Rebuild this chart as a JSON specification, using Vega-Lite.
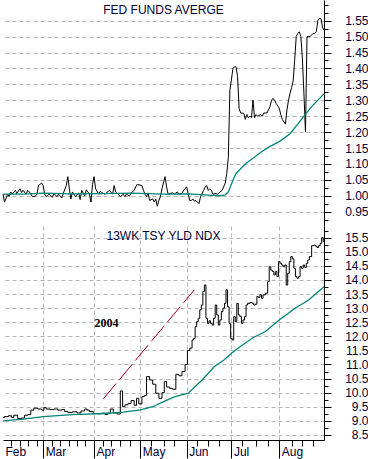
{
  "$schema": "https://vega.github.io/schema/vega-lite/v6.json",
  "padding": 0,
  "spacing": 0,
  "bounds": "flush",
  "config": {
    "view": {"stroke": null},
    "font": "Liberation Sans",
    "axis": {
      "labelFont": "Liberation Sans",
      "labelFontSize": 12,
      "labelColor": "#000033",
      "domainColor": "#000000",
      "tickColor": "#000000",
      "gridColor": "#b4b4b4",
      "gridDash": [4, 3],
      "gridWidth": 1,
      "title": null
    }
  },
  "datasets": {
    "fed": [
      {"date": "2004-02-04", "rate": 1.005}, {"date": "2004-02-05", "rate": 0.98}, {"date": "2004-02-07", "rate": 1.005},
      {"date": "2004-02-08", "rate": 0.998}, {"date": "2004-02-09", "rate": 1.012}, {"date": "2004-02-10", "rate": 1.005},
      {"date": "2004-02-12", "rate": 1.017}, {"date": "2004-02-13", "rate": 1.007}, {"date": "2004-02-14", "rate": 1.015},
      {"date": "2004-02-15", "rate": 1.022}, {"date": "2004-02-16", "rate": 1.01}, {"date": "2004-02-17", "rate": 1.017},
      {"date": "2004-02-19", "rate": 1.005}, {"date": "2004-02-20", "rate": 1.017}, {"date": "2004-02-22", "rate": 1.007},
      {"date": "2004-02-23", "rate": 0.997}, {"date": "2004-02-25", "rate": 0.999}, {"date": "2004-02-26", "rate": 1.005},
      {"date": "2004-02-27", "rate": 1.032}, {"date": "2004-02-29", "rate": 1.04}, {"date": "2004-03-01", "rate": 1.032},
      {"date": "2004-03-02", "rate": 1.005}, {"date": "2004-03-03", "rate": 0.997}, {"date": "2004-03-05", "rate": 1.005},
      {"date": "2004-03-07", "rate": 0.995}, {"date": "2004-03-08", "rate": 1.007}, {"date": "2004-03-10", "rate": 0.997},
      {"date": "2004-03-11", "rate": 1.005}, {"date": "2004-03-13", "rate": 0.993}, {"date": "2004-03-14", "rate": 1.007},
      {"date": "2004-03-16", "rate": 1.032}, {"date": "2004-03-17", "rate": 1.06}, {"date": "2004-03-18", "rate": 1.022},
      {"date": "2004-03-19", "rate": 0.99}, {"date": "2004-03-20", "rate": 1.012}, {"date": "2004-03-22", "rate": 0.997},
      {"date": "2004-03-24", "rate": 1.009}, {"date": "2004-03-25", "rate": 0.988}, {"date": "2004-03-26", "rate": 1.017},
      {"date": "2004-03-28", "rate": 1.0}, {"date": "2004-03-29", "rate": 1.019}, {"date": "2004-03-31", "rate": 1.005},
      {"date": "2004-04-01", "rate": 0.98}, {"date": "2004-04-02", "rate": 1.035}, {"date": "2004-04-03", "rate": 1.06},
      {"date": "2004-04-04", "rate": 1.022}, {"date": "2004-04-06", "rate": 1.005}, {"date": "2004-04-07", "rate": 1.014},
      {"date": "2004-04-08", "rate": 1.01}, {"date": "2004-04-10", "rate": 1.005}, {"date": "2004-04-11", "rate": 1.009},
      {"date": "2004-04-13", "rate": 1.017}, {"date": "2004-04-15", "rate": 1.005}, {"date": "2004-04-16", "rate": 1.032},
      {"date": "2004-04-17", "rate": 1.012}, {"date": "2004-04-19", "rate": 1.003}, {"date": "2004-04-20", "rate": 0.997},
      {"date": "2004-04-22", "rate": 1.005}, {"date": "2004-04-23", "rate": 0.997}, {"date": "2004-04-24", "rate": 1.005},
      {"date": "2004-04-26", "rate": 0.999}, {"date": "2004-04-27", "rate": 1.009}, {"date": "2004-04-29", "rate": 1.017},
      {"date": "2004-04-30", "rate": 1.028}, {"date": "2004-05-01", "rate": 1.036}, {"date": "2004-05-04", "rate": 1.032},
      {"date": "2004-05-05", "rate": 1.017}, {"date": "2004-05-06", "rate": 1.005}, {"date": "2004-05-07", "rate": 0.997},
      {"date": "2004-05-08", "rate": 1.009}, {"date": "2004-05-09", "rate": 0.985}, {"date": "2004-05-11", "rate": 0.99},
      {"date": "2004-05-12", "rate": 0.98}, {"date": "2004-05-13", "rate": 0.99}, {"date": "2004-05-14", "rate": 0.967},
      {"date": "2004-05-15", "rate": 0.985}, {"date": "2004-05-16", "rate": 0.997}, {"date": "2004-05-17", "rate": 1.022},
      {"date": "2004-05-19", "rate": 1.06}, {"date": "2004-05-20", "rate": 1.028}, {"date": "2004-05-21", "rate": 1.005},
      {"date": "2004-05-22", "rate": 1.007}, {"date": "2004-05-24", "rate": 1.009}, {"date": "2004-05-25", "rate": 1.005},
      {"date": "2004-05-27", "rate": 1.012}, {"date": "2004-05-28", "rate": 1.005}, {"date": "2004-05-30", "rate": 1.007},
      {"date": "2004-05-31", "rate": 1.017}, {"date": "2004-06-02", "rate": 1.028}, {"date": "2004-06-03", "rate": 1.005},
      {"date": "2004-06-04", "rate": 0.985}, {"date": "2004-06-05", "rate": 0.985}, {"date": "2004-06-06", "rate": 0.99},
      {"date": "2004-06-07", "rate": 0.983}, {"date": "2004-06-08", "rate": 0.985}, {"date": "2004-06-09", "rate": 0.98},
      {"date": "2004-06-10", "rate": 0.975}, {"date": "2004-06-11", "rate": 0.997}, {"date": "2004-06-13", "rate": 1.017},
      {"date": "2004-06-14", "rate": 1.028}, {"date": "2004-06-15", "rate": 1.032}, {"date": "2004-06-16", "rate": 1.017},
      {"date": "2004-06-17", "rate": 1.022}, {"date": "2004-06-18", "rate": 1.017}, {"date": "2004-06-19", "rate": 1.005},
      {"date": "2004-06-21", "rate": 1.007}, {"date": "2004-06-22", "rate": 1.005}, {"date": "2004-06-23", "rate": 1.009},
      {"date": "2004-06-25", "rate": 1.017}, {"date": "2004-06-27", "rate": 1.04}, {"date": "2004-06-28", "rate": 1.07},
      {"date": "2004-06-29", "rate": 1.12}, {"date": "2004-06-30", "rate": 1.33}, {"date": "2004-07-02", "rate": 1.4},
      {"date": "2004-07-03", "rate": 1.405}, {"date": "2004-07-04", "rate": 1.405}, {"date": "2004-07-05", "rate": 1.374},
      {"date": "2004-07-06", "rate": 1.274}, {"date": "2004-07-07", "rate": 1.26}, {"date": "2004-07-09", "rate": 1.259},
      {"date": "2004-07-10", "rate": 1.24}, {"date": "2004-07-11", "rate": 1.255}, {"date": "2004-07-12", "rate": 1.245},
      {"date": "2004-07-13", "rate": 1.25}, {"date": "2004-07-14", "rate": 1.245}, {"date": "2004-07-15", "rate": 1.3},
      {"date": "2004-07-16", "rate": 1.245}, {"date": "2004-07-17", "rate": 1.255}, {"date": "2004-07-18", "rate": 1.25},
      {"date": "2004-07-20", "rate": 1.255}, {"date": "2004-07-21", "rate": 1.25}, {"date": "2004-07-22", "rate": 1.26},
      {"date": "2004-07-24", "rate": 1.26}, {"date": "2004-07-25", "rate": 1.27}, {"date": "2004-07-26", "rate": 1.28},
      {"date": "2004-07-27", "rate": 1.3}, {"date": "2004-07-28", "rate": 1.306}, {"date": "2004-07-29", "rate": 1.3},
      {"date": "2004-07-30", "rate": 1.29}, {"date": "2004-08-01", "rate": 1.275}, {"date": "2004-08-02", "rate": 1.255},
      {"date": "2004-08-03", "rate": 1.24}, {"date": "2004-08-05", "rate": 1.225}, {"date": "2004-08-06", "rate": 1.27},
      {"date": "2004-08-07", "rate": 1.3}, {"date": "2004-08-08", "rate": 1.322}, {"date": "2004-08-09", "rate": 1.34},
      {"date": "2004-08-10", "rate": 1.36}, {"date": "2004-08-11", "rate": 1.426}, {"date": "2004-08-12", "rate": 1.5},
      {"date": "2004-08-13", "rate": 1.51}, {"date": "2004-08-14", "rate": 1.515}, {"date": "2004-08-15", "rate": 1.5},
      {"date": "2004-08-16", "rate": 1.43}, {"date": "2004-08-17", "rate": 1.32}, {"date": "2004-08-18", "rate": 1.2},
      {"date": "2004-08-19", "rate": 1.5}, {"date": "2004-08-21", "rate": 1.5}, {"date": "2004-08-22", "rate": 1.505},
      {"date": "2004-08-23", "rate": 1.51}, {"date": "2004-08-24", "rate": 1.51}, {"date": "2004-08-25", "rate": 1.515},
      {"date": "2004-08-26", "rate": 1.55}, {"date": "2004-08-27", "rate": 1.557}, {"date": "2004-08-28", "rate": 1.557},
      {"date": "2004-08-29", "rate": 1.53}, {"date": "2004-08-30", "rate": 1.52}
    ],
    "fedma": [
      {"date": "2004-02-04", "ma": 1.005}, {"date": "2004-02-17", "ma": 1.005}, {"date": "2004-03-01", "ma": 1.008},
      {"date": "2004-03-20", "ma": 1.006}, {"date": "2004-04-09", "ma": 1.007}, {"date": "2004-04-27", "ma": 1.008},
      {"date": "2004-05-18", "ma": 1.005}, {"date": "2004-06-03", "ma": 1.006}, {"date": "2004-06-16", "ma": 1.002},
      {"date": "2004-06-24", "ma": 1.0}, {"date": "2004-06-27", "ma": 1.003}, {"date": "2004-06-29", "ma": 1.012},
      {"date": "2004-07-02", "ma": 1.049}, {"date": "2004-07-04", "ma": 1.07}, {"date": "2004-07-10", "ma": 1.1},
      {"date": "2004-07-16", "ma": 1.122}, {"date": "2004-07-21", "ma": 1.14}, {"date": "2004-07-26", "ma": 1.155},
      {"date": "2004-08-01", "ma": 1.17}, {"date": "2004-08-08", "ma": 1.195}, {"date": "2004-08-13", "ma": 1.225},
      {"date": "2004-08-17", "ma": 1.25}, {"date": "2004-08-22", "ma": 1.28}, {"date": "2004-08-30", "ma": 1.32}
    ],
    "tsy": [
      {"date": "2004-02-04", "yld": 9.12}, {"date": "2004-02-06", "yld": 9.15}, {"date": "2004-02-09", "yld": 9.18},
      {"date": "2004-02-10", "yld": 9.12}, {"date": "2004-02-12", "yld": 9.2}, {"date": "2004-02-15", "yld": 9.08},
      {"date": "2004-02-17", "yld": 9.1}, {"date": "2004-02-19", "yld": 9.2}, {"date": "2004-02-21", "yld": 9.22},
      {"date": "2004-02-23", "yld": 9.38}, {"date": "2004-02-25", "yld": 9.45}, {"date": "2004-02-28", "yld": 9.42},
      {"date": "2004-03-01", "yld": 9.38}, {"date": "2004-03-02", "yld": 9.47}, {"date": "2004-03-04", "yld": 9.42},
      {"date": "2004-03-07", "yld": 9.4}, {"date": "2004-03-09", "yld": 9.42}, {"date": "2004-03-12", "yld": 9.38},
      {"date": "2004-03-14", "yld": 9.4}, {"date": "2004-03-16", "yld": 9.33}, {"date": "2004-03-18", "yld": 9.3},
      {"date": "2004-03-22", "yld": 9.32}, {"date": "2004-03-24", "yld": 9.28}, {"date": "2004-03-27", "yld": 9.35},
      {"date": "2004-03-29", "yld": 9.42}, {"date": "2004-03-30", "yld": 9.38}, {"date": "2004-04-01", "yld": 9.33},
      {"date": "2004-04-04", "yld": 9.26}, {"date": "2004-04-06", "yld": 9.25}, {"date": "2004-04-09", "yld": 9.27},
      {"date": "2004-04-11", "yld": 9.23}, {"date": "2004-04-13", "yld": 9.27}, {"date": "2004-04-14", "yld": 9.42},
      {"date": "2004-04-17", "yld": 9.28}, {"date": "2004-04-19", "yld": 9.24}, {"date": "2004-04-21", "yld": 10.06},
      {"date": "2004-04-22", "yld": 9.5}, {"date": "2004-04-24", "yld": 9.57}, {"date": "2004-04-26", "yld": 9.62},
      {"date": "2004-04-28", "yld": 9.72}, {"date": "2004-04-30", "yld": 9.55}, {"date": "2004-05-01", "yld": 9.8},
      {"date": "2004-05-03", "yld": 9.6}, {"date": "2004-05-05", "yld": 9.86}, {"date": "2004-05-06", "yld": 9.9},
      {"date": "2004-05-08", "yld": 10.57}, {"date": "2004-05-10", "yld": 10.45}, {"date": "2004-05-12", "yld": 10.3},
      {"date": "2004-05-14", "yld": 9.98}, {"date": "2004-05-16", "yld": 9.8}, {"date": "2004-05-18", "yld": 10.0},
      {"date": "2004-05-19", "yld": 10.4}, {"date": "2004-05-21", "yld": 10.2}, {"date": "2004-05-23", "yld": 10.15},
      {"date": "2004-05-25", "yld": 10.12}, {"date": "2004-05-27", "yld": 10.65}, {"date": "2004-05-29", "yld": 10.6},
      {"date": "2004-05-31", "yld": 10.75}, {"date": "2004-06-02", "yld": 11.0}, {"date": "2004-06-03", "yld": 11.5},
      {"date": "2004-06-05", "yld": 11.58}, {"date": "2004-06-06", "yld": 11.87}, {"date": "2004-06-07", "yld": 11.93},
      {"date": "2004-06-08", "yld": 12.34}, {"date": "2004-06-09", "yld": 12.52}, {"date": "2004-06-10", "yld": 12.64},
      {"date": "2004-06-11", "yld": 12.94}, {"date": "2004-06-12", "yld": 13.11}, {"date": "2004-06-13", "yld": 13.59},
      {"date": "2004-06-14", "yld": 13.82}, {"date": "2004-06-15", "yld": 12.64}, {"date": "2004-06-16", "yld": 12.46},
      {"date": "2004-06-17", "yld": 12.55}, {"date": "2004-06-18", "yld": 12.46}, {"date": "2004-06-19", "yld": 12.4},
      {"date": "2004-06-20", "yld": 12.64}, {"date": "2004-06-21", "yld": 13.11}, {"date": "2004-06-22", "yld": 12.76},
      {"date": "2004-06-23", "yld": 12.4}, {"date": "2004-06-24", "yld": 12.58}, {"date": "2004-06-25", "yld": 12.88},
      {"date": "2004-06-26", "yld": 13.0}, {"date": "2004-06-27", "yld": 13.17}, {"date": "2004-06-28", "yld": 13.65},
      {"date": "2004-06-29", "yld": 13.05}, {"date": "2004-06-30", "yld": 12.46}, {"date": "2004-07-01", "yld": 11.93},
      {"date": "2004-07-02", "yld": 11.87}, {"date": "2004-07-03", "yld": 12.7}, {"date": "2004-07-04", "yld": 12.52},
      {"date": "2004-07-05", "yld": 13.17}, {"date": "2004-07-06", "yld": 12.76}, {"date": "2004-07-07", "yld": 12.7},
      {"date": "2004-07-08", "yld": 12.46}, {"date": "2004-07-09", "yld": 12.58}, {"date": "2004-07-10", "yld": 12.7},
      {"date": "2004-07-11", "yld": 13.11}, {"date": "2004-07-12", "yld": 13.17}, {"date": "2004-07-14", "yld": 13.2},
      {"date": "2004-07-15", "yld": 13.17}, {"date": "2004-07-16", "yld": 13.11}, {"date": "2004-07-17", "yld": 13.14},
      {"date": "2004-07-18", "yld": 13.41}, {"date": "2004-07-19", "yld": 13.38}, {"date": "2004-07-20", "yld": 13.47},
      {"date": "2004-07-21", "yld": 13.35}, {"date": "2004-07-22", "yld": 13.47}, {"date": "2004-07-24", "yld": 13.53},
      {"date": "2004-07-25", "yld": 13.94}, {"date": "2004-07-26", "yld": 14.47}, {"date": "2004-07-27", "yld": 14.35},
      {"date": "2004-07-28", "yld": 14.3}, {"date": "2004-07-29", "yld": 14.18}, {"date": "2004-07-30", "yld": 14.3},
      {"date": "2004-07-31", "yld": 14.12}, {"date": "2004-08-01", "yld": 14.65}, {"date": "2004-08-02", "yld": 14.59},
      {"date": "2004-08-03", "yld": 14.53}, {"date": "2004-08-04", "yld": 14.47}, {"date": "2004-08-05", "yld": 14.53},
      {"date": "2004-08-06", "yld": 13.82}, {"date": "2004-08-07", "yld": 14.24}, {"date": "2004-08-08", "yld": 14.65},
      {"date": "2004-08-09", "yld": 14.83}, {"date": "2004-08-10", "yld": 14.75}, {"date": "2004-08-11", "yld": 14.41},
      {"date": "2004-08-12", "yld": 14.12}, {"date": "2004-08-13", "yld": 14.06}, {"date": "2004-08-14", "yld": 14.12},
      {"date": "2004-08-15", "yld": 14.47}, {"date": "2004-08-16", "yld": 14.41}, {"date": "2004-08-17", "yld": 14.53},
      {"date": "2004-08-18", "yld": 14.44}, {"date": "2004-08-19", "yld": 14.59}, {"date": "2004-08-20", "yld": 14.71},
      {"date": "2004-08-21", "yld": 14.83}, {"date": "2004-08-23", "yld": 15.22}, {"date": "2004-08-24", "yld": 15.24},
      {"date": "2004-08-25", "yld": 15.2}, {"date": "2004-08-26", "yld": 15.15}, {"date": "2004-08-27", "yld": 15.22},
      {"date": "2004-08-28", "yld": 15.3}, {"date": "2004-08-29", "yld": 15.5}, {"date": "2004-08-30", "yld": 15.36}
    ],
    "tsyma": [
      {"date": "2004-02-04", "ma": 9.0}, {"date": "2004-02-17", "ma": 9.06}, {"date": "2004-03-01", "ma": 9.15},
      {"date": "2004-03-20", "ma": 9.22}, {"date": "2004-04-09", "ma": 9.26}, {"date": "2004-04-22", "ma": 9.31},
      {"date": "2004-05-03", "ma": 9.39}, {"date": "2004-05-11", "ma": 9.5}, {"date": "2004-05-18", "ma": 9.68},
      {"date": "2004-05-25", "ma": 9.85}, {"date": "2004-06-03", "ma": 9.98}, {"date": "2004-06-12", "ma": 10.45},
      {"date": "2004-06-20", "ma": 10.93}, {"date": "2004-06-26", "ma": 11.15}, {"date": "2004-07-01", "ma": 11.4},
      {"date": "2004-07-07", "ma": 11.65}, {"date": "2004-07-15", "ma": 11.95}, {"date": "2004-07-23", "ma": 12.17},
      {"date": "2004-08-01", "ma": 12.58}, {"date": "2004-08-11", "ma": 12.99}, {"date": "2004-08-20", "ma": 13.29},
      {"date": "2004-08-30", "ma": 13.76}
    ],
    "trend": [
      {"date": "2004-04-09", "value": 9.78}, {"date": "2004-06-07", "value": 13.65}
    ]
  },
  "vconcat": [
    {
      "width": 321,
      "height": 226,
      "resolve": {"axis": {"y": "independent"}},
      "layer": [
        {
          "data": {"name": "fed"},
          "mark": {"type": "line", "color": "#000000", "strokeWidth": 1},
          "encoding": {
            "x": {
              "field": "date", "type": "temporal",
              "scale": {"type": "utc", "domain": [{"year": 2004, "month": 2, "date": 4, "utc": true}, {"year": 2004, "month": 8, "date": 30, "utc": true}]},
              "axis": {
                "orient": "bottom", "labels": false, "ticks": false, "grid": true, "domain": true,
                "values": [
                  {"year": 2004, "month": 3, "date": 1, "utc": true}, {"year": 2004, "month": 4, "date": 3, "utc": true},
                  {"year": 2004, "month": 5, "date": 3, "utc": true}, {"year": 2004, "month": 6, "date": 2, "utc": true},
                  {"year": 2004, "month": 7, "date": 1, "utc": true}, {"year": 2004, "month": 8, "date": 1, "utc": true}
                ]
              }
            },
            "y": {
              "field": "rate", "type": "quantitative",
              "scale": {"domain": [0.905, 1.615], "zero": false, "nice": false},
              "axis": {
                "orient": "right", "grid": true, "format": ".2f", "tickSize": 7, "labelPadding": 37,
                "labelAlign": "right", "labelBaseline": "middle", "labelFlush": false, "labelOverlap": false,
                "values": [0.95, 1.0, 1.05, 1.1, 1.15, 1.2, 1.25, 1.3, 1.35, 1.4, 1.45, 1.5, 1.55]
              }
            }
          }
        },
        {
          "data": {"name": "fedma"},
          "mark": {"type": "line", "color": "#00857a", "strokeWidth": 1.3},
          "encoding": {
            "x": {"field": "date", "type": "temporal", "axis": null},
            "y": {
              "field": "ma", "type": "quantitative",
              "scale": {"domain": [0.905, 1.615], "zero": false, "nice": false},
              "axis": {
                "orient": "right", "grid": false, "labels": false, "domain": false, "tickSize": 4,
                "values": [0.925, 0.95, 0.975, 1.0, 1.025, 1.05, 1.075, 1.1, 1.125, 1.15, 1.175, 1.2, 1.225, 1.25, 1.275, 1.3, 1.325, 1.35, 1.375, 1.4, 1.425, 1.45, 1.475, 1.5, 1.525, 1.55, 1.575, 1.6]
              }
            }
          }
        },
        {
          "data": {"values": [{"date": "2004-05-18", "value": 1.585, "label": "FED FUNDS AVERGE"}]},
          "mark": {"type": "text", "font": "Liberation Sans", "fontSize": 12, "color": "#000033", "align": "center", "baseline": "middle"},
          "encoding": {
            "x": {"field": "date", "type": "temporal", "axis": null},
            "y": {"field": "value", "type": "quantitative", "axis": null, "scale": {"domain": [0.905, 1.615], "zero": false, "nice": false}},
            "text": {"field": "label"}
          }
        }
      ]
    },
    {
      "width": 321,
      "height": 214,
      "resolve": {"axis": {"x": "independent", "y": "independent"}},
      "layer": [
        {
          "data": {"name": "tsy"},
          "mark": {"type": "line", "color": "#000000", "strokeWidth": 1, "interpolate": "step"},
          "encoding": {
            "x": {
              "field": "date", "type": "temporal",
              "scale": {"type": "utc", "domain": [{"year": 2004, "month": 2, "date": 4, "utc": true}, {"year": 2004, "month": 8, "date": 30, "utc": true}]},
              "axis": {
                "orient": "bottom", "grid": true, "domain": true, "format": "%b", "tickSize": 18,
                "labelAlign": "left", "labelBaseline": "alphabetic", "labelPadding": -3, "labelOffset": 2,
                "labelFlush": false, "labelOverlap": false, "labelBound": false,
                "gridOpacity": {"condition": {"test": "utcmonth(datum.value) == 1", "value": 0}, "value": 1},
                "tickOpacity": {"condition": {"test": "utcmonth(datum.value) == 1", "value": 0}, "value": 1},
                "values": [
                  {"year": 2004, "month": 2, "date": 4, "utc": true},
                  {"year": 2004, "month": 3, "date": 1, "utc": true}, {"year": 2004, "month": 4, "date": 3, "utc": true},
                  {"year": 2004, "month": 5, "date": 3, "utc": true}, {"year": 2004, "month": 6, "date": 2, "utc": true},
                  {"year": 2004, "month": 7, "date": 1, "utc": true}, {"year": 2004, "month": 8, "date": 1, "utc": true}
                ]
              }
            },
            "y": {
              "field": "yld", "type": "quantitative",
              "scale": {"domain": [8.32, 15.915], "zero": false, "nice": false},
              "axis": {
                "orient": "right", "grid": true, "format": ".1f", "tickSize": 7, "labelPadding": 37,
                "labelAlign": "right", "labelBaseline": "middle", "labelFlush": false, "labelOverlap": false,
                "values": [8.5, 9.0, 9.5, 10.0, 10.5, 11.0, 11.5, 12.0, 12.5, 13.0, 13.5, 14.0, 14.5, 15.0, 15.5]
              }
            }
          }
        },
        {
          "data": {"name": "tsyma"},
          "mark": {"type": "line", "color": "#00857a", "strokeWidth": 1.3},
          "encoding": {
            "x": {
              "field": "date", "type": "temporal",
              "scale": {"type": "utc", "domain": [{"year": 2004, "month": 2, "date": 4, "utc": true}, {"year": 2004, "month": 8, "date": 30, "utc": true}]},
              "axis": {
                "orient": "bottom", "grid": false, "domain": false, "labels": false, "tickSize": 6,
                "values": [
                  {"year": 2004, "month": 2, "date": 9, "utc": true}, {"year": 2004, "month": 2, "date": 15, "utc": true},
                  {"year": 2004, "month": 2, "date": 20, "utc": true}, {"year": 2004, "month": 2, "date": 26, "utc": true},
                  {"year": 2004, "month": 3, "date": 7, "utc": true}, {"year": 2004, "month": 3, "date": 12, "utc": true},
                  {"year": 2004, "month": 3, "date": 18, "utc": true}, {"year": 2004, "month": 3, "date": 23, "utc": true},
                  {"year": 2004, "month": 3, "date": 28, "utc": true}, {"year": 2004, "month": 4, "date": 9, "utc": true},
                  {"year": 2004, "month": 4, "date": 14, "utc": true}, {"year": 2004, "month": 4, "date": 20, "utc": true},
                  {"year": 2004, "month": 4, "date": 26, "utc": true}, {"year": 2004, "month": 5, "date": 10, "utc": true},
                  {"year": 2004, "month": 5, "date": 18, "utc": true}, {"year": 2004, "month": 5, "date": 25, "utc": true},
                  {"year": 2004, "month": 6, "date": 9, "utc": true}, {"year": 2004, "month": 6, "date": 16, "utc": true},
                  {"year": 2004, "month": 6, "date": 23, "utc": true}, {"year": 2004, "month": 7, "date": 8, "utc": true},
                  {"year": 2004, "month": 7, "date": 17, "utc": true}, {"year": 2004, "month": 7, "date": 25, "utc": true},
                  {"year": 2004, "month": 8, "date": 9, "utc": true}, {"year": 2004, "month": 8, "date": 16, "utc": true},
                  {"year": 2004, "month": 8, "date": 23, "utc": true}
                ]
              }
            },
            "y": {
              "field": "ma", "type": "quantitative",
              "scale": {"domain": [8.32, 15.915], "zero": false, "nice": false},
              "axis": {
                "orient": "right", "grid": false, "labels": false, "domain": false, "tickSize": 4,
                "values": [8.5, 8.75, 9.0, 9.25, 9.5, 9.75, 10.0, 10.25, 10.5, 10.75, 11.0, 11.25, 11.5, 11.75, 12.0, 12.25, 12.5, 12.75, 13.0, 13.25, 13.5, 13.75, 14.0, 14.25, 14.5, 14.75, 15.0, 15.25, 15.5, 15.75]
              }
            }
          }
        },
        {
          "data": {"name": "trend"},
          "mark": {"type": "line", "color": "#9a0018", "strokeWidth": 1, "strokeDash": [20, 5]},
          "encoding": {
            "x": {"field": "date", "type": "temporal", "axis": null},
            "y": {"field": "value", "type": "quantitative", "axis": null, "scale": {"domain": [8.32, 15.915], "zero": false, "nice": false}}
          }
        },
        {
          "data": {"values": [
            {"date": "2004-05-18", "value": 15.56, "label": "13WK TSY YLD NDX"}
          ]},
          "mark": {"type": "text", "font": "Liberation Sans", "fontSize": 12, "color": "#000033", "align": "center", "baseline": "middle"},
          "encoding": {
            "x": {"field": "date", "type": "temporal", "axis": null},
            "y": {"field": "value", "type": "quantitative", "axis": null, "scale": {"domain": [8.32, 15.915], "zero": false, "nice": false}},
            "text": {"field": "label"}
          }
        },
        {
          "data": {"values": [
            {"date": "2004-04-11", "value": 12.48, "label": "2004"}
          ]},
          "mark": {"type": "text", "font": "Liberation Serif", "fontSize": 12, "fontWeight": "bold", "color": "#000000", "align": "center", "baseline": "middle"},
          "encoding": {
            "x": {"field": "date", "type": "temporal", "axis": null},
            "y": {"field": "value", "type": "quantitative", "axis": null, "scale": {"domain": [8.32, 15.915], "zero": false, "nice": false}},
            "text": {"field": "label"}
          }
        }
      ]
    }
  ]
}
